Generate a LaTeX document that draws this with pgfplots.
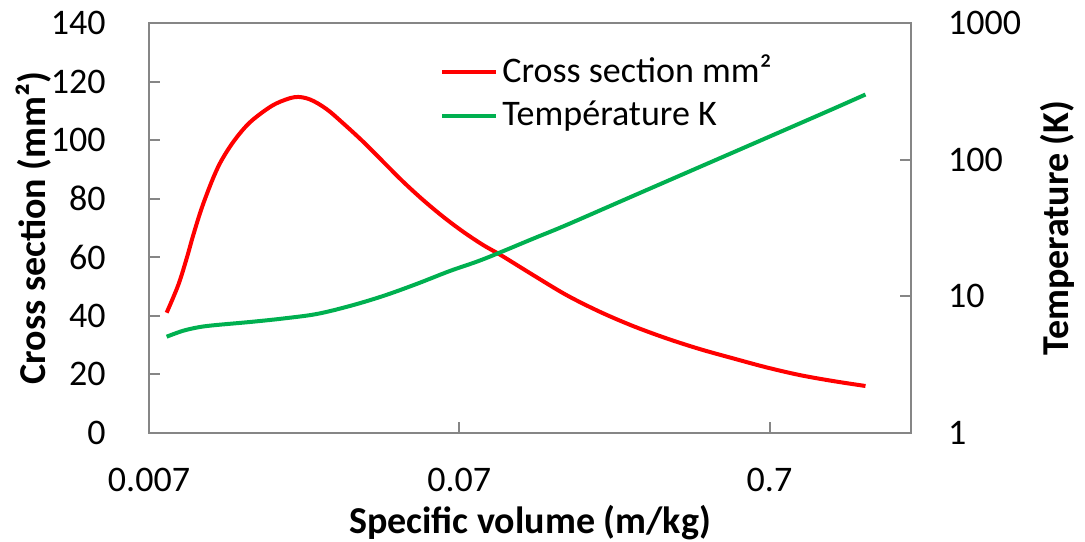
\documentclass[border=0pt]{standalone}
\usepackage{fontspec}
\setmainfont{Carlito}
\usepackage{pgfplots}
\pgfplotsset{compat=1.18}
\definecolor{axgray}{RGB}{134,134,134}
\definecolor{xlgreen}{RGB}{0,176,80}
\pgfplotsset{/pgf/number format/assume math mode=true}
\begin{document}
\fontsize{18}{21.6}\selectfont
\begin{tikzpicture}
\useasboundingbox (-74.5pt,-54pt) rectangle (468pt,216.5pt);
\begin{axis}[
  scale only axis, width=381pt, height=205pt,
  xmode=log, xmin=0.007, xmax=2,
  xtick={0.007,0.07,0.7}, xticklabels={0.007,0.07,0.7},
  xminorticks=false,
  tick label style={font=\fontsize{18}{21.6}\selectfont},
  label style={font=\bfseries\fontsize{19}{22.8}\selectfont},
  axis line style={axgray, line width=1pt},
  major tick style={axgray, line width=1pt},
  major tick length=5.5pt,
  tick align=inside,
  xticklabel shift=11.5pt, yticklabel shift=15.5pt,
  ymin=0, ymax=140, ytick={0,20,40,60,80,100,120,140},
  xtick pos=left, ytick pos=left,
  ylabel={Cross section (mm²)},
  ylabel style={at={(axis description cs:-0.151,0.5)}, anchor=center},
  xlabel={Specific volume (m/kg)},
  xlabel style={at={(axis description cs:0.5,-0.219)}, anchor=center},
]
\addplot[red, line width=2pt, smooth, tension=0.55] coordinates {
(0.007981,41.08) (0.008699,50.54) (0.009259,59.65) (0.009724,67.61) (0.010347,76.73)
(0.011144,85.81) (0.011849,92.09) (0.012764,97.76) (0.013745,102.34) (0.014806,106.09)
(0.016338,109.71) (0.018047,112.58) (0.020669,114.7) (0.023103,113.9)
(0.026147,110.6) (0.029570,105.75) (0.034299,99.47) (0.039782,92.64) (0.046142,85.81)
(0.053519,79.56) (0.062079,73.86) (0.072002,68.74) (0.083517,64.20) (0.095718,60.61)
(0.12101,53.95) (0.15499,47.12) (0.19842,41.42) (0.25399,36.54) (0.32540,32.34)
(0.41651,28.68) (0.53310,25.51) (0.68308,22.43) (0.87444,19.80) (1.1194,17.76)
(1.4267,16.05)
};
\end{axis}
\begin{axis}[
  scale only axis, width=381pt, height=205pt,
  xmode=log, ymode=log, xmin=0.007, xmax=2, ymin=1, ymax=1000,
  xtick=\empty, xminorticks=false,
  ytick={1,10,100,1000}, yticklabels={1,10,100,1000}, yminorticks=false,
  tick label style={font=\fontsize{18}{21.6}\selectfont},
  label style={font=\bfseries\fontsize{19}{22.8}\selectfont},
  axis line style={axgray, line width=1pt},
  major tick style={axgray, line width=1pt},
  major tick length=5.5pt,
  tick align=inside,
  yticklabel shift=12.3pt,
  axis y line*=right, axis x line=none,
  ylabel={Temperature (K)},
  ylabel style={at={(axis description cs:1.192,0.5)}, anchor=center},
  legend style={at={(axis description cs:0.374,0.942)}, anchor=north west,
    draw=none, fill=none, font=\fontsize{18}{21.6}\selectfont, row sep=2.5pt},
  legend cell align=left,
  legend image code/.code={\draw[#1] (0pt,0pt) -- (27pt,0pt);},
]
\addlegendimage{red, line width=2pt}
\addlegendentry{Cross section mm²}
\addplot[xlgreen, line width=2pt, smooth, tension=0.55] coordinates {
(0.007981,5.066) (0.009028,5.604) (0.010217,5.966) (0.011564,6.171) (0.014806,6.490)
(0.018953,6.884) (0.024279,7.424) (0.031074,8.498) (0.039782,10.056) (0.050965,12.310)
(0.065243,15.322) (0.083517,18.66) (0.12101,26.4) (0.15499,33.25) (0.25399,54.22)
(0.41651,88.37) (0.68308,144.0) (1.1194,234.8) (1.4267,299.8)
};
\addlegendentry{Température K}
\end{axis}
\end{tikzpicture}
\end{document}
